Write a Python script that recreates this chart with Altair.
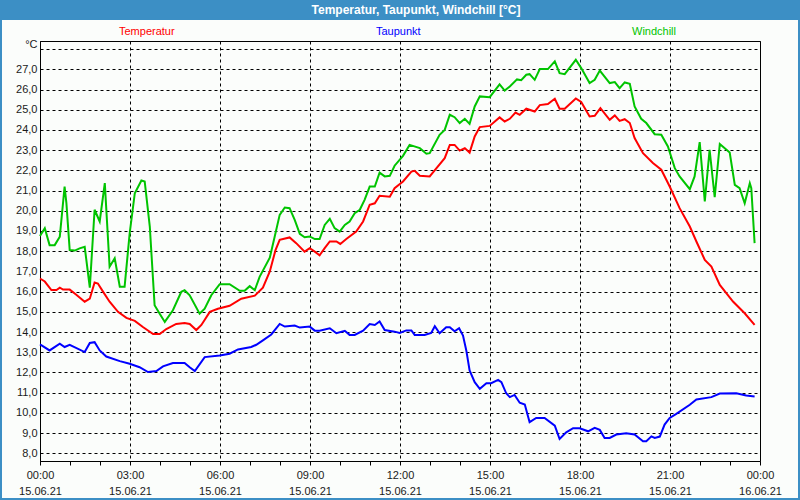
import altair as alt
import pandas as pd

# ---------------- data (hours since 15.06.21 00:00, °C) ----------------
temp_hours = [0.00, 0.16, 0.38, 0.55, 0.66, 0.77, 0.99, 1.21, 1.49, 1.66, 1.82, 1.93, 2.10, 2.32, 2.60,
              2.88, 3.16, 3.43, 3.77, 3.99, 4.21, 4.54, 4.82, 4.99, 5.21, 5.38, 5.66, 5.93, 6.32, 6.71,
              7.16, 7.43, 7.66, 7.85, 7.99, 8.32, 8.54, 8.82, 8.99, 9.16, 9.32, 9.49, 9.66, 9.88, 10.01,
              10.21, 10.54, 10.77, 10.99, 11.16, 11.32, 11.66, 11.82, 12.10, 12.38, 12.49, 12.66, 12.99,
              13.21, 13.49, 13.66, 13.82, 13.99, 14.16, 14.32, 14.49, 14.66, 14.99, 15.32, 15.49, 15.66,
              15.85, 15.99, 16.21, 16.49, 16.66, 16.93, 17.16, 17.32, 17.49, 17.86, 18.04, 18.32, 18.49,
              18.68, 18.99, 19.16, 19.32, 19.49, 19.66, 19.82, 20.10, 20.43, 20.71, 20.99, 21.32, 21.66,
              21.88, 22.16, 22.38, 22.66, 23.10, 23.49, 23.82]
temp_values = [16.65, 16.5, 16.08, 16.08, 16.2, 16.1, 16.1, 15.85, 15.5, 15.65, 16.45, 16.4, 16.0, 15.5, 15.0,
               14.7, 14.55, 14.25, 13.9, 13.9, 14.15, 14.4, 14.45, 14.4, 14.1, 14.35, 15.0, 15.15, 15.3, 15.65,
               15.8, 16.2, 17.0, 18.05, 18.56, 18.68, 18.4, 17.98, 18.15, 17.98, 17.8, 18.15, 18.48, 18.48, 18.36,
               18.6, 18.97, 19.47, 20.3, 20.37, 20.74, 20.7, 21.12, 21.45, 21.94, 21.98, 21.73, 21.7,
               22.1, 22.6, 23.26, 23.26, 22.98, 23.1, 22.88, 23.68, 24.14, 24.2, 24.62, 24.42, 24.55,
               24.86, 24.75, 25.05, 24.91, 25.23, 25.28, 25.54, 25.05, 25.05, 25.56, 25.38, 24.67, 24.7,
               25.08, 24.5, 24.72, 24.45, 24.53, 24.34, 23.6, 22.85, 22.36, 22.03, 21.2, 20.13, 19.22,
               18.48, 17.57, 17.24, 16.33, 15.51, 14.93, 14.35]

dew_hours = [0.00, 0.32, 0.66, 0.82, 0.99, 1.49, 1.66, 1.82, 1.99, 2.21, 2.66, 2.99, 3.32, 3.60, 3.88, 4.10,
             4.43, 4.82, 4.99, 5.16, 5.49, 5.99, 6.32, 6.60, 7.04, 7.21, 7.43, 7.71, 7.99, 8.16, 8.49, 8.66,
             8.99, 9.16, 9.32, 9.66, 9.88, 10.16, 10.32, 10.49, 10.77, 10.99, 11.16, 11.32, 11.49, 11.82,
             11.99, 12.21, 12.38, 12.49, 12.82, 13.04, 13.16, 13.32, 13.54, 13.66, 13.82, 13.97, 14.10,
             14.21, 14.32, 14.49, 14.66, 14.88, 15.04, 15.27, 15.38, 15.54, 15.66, 15.82, 15.99, 16.16,
             16.32, 16.54, 16.82, 17.16, 17.32, 17.54, 17.77, 17.99, 18.27, 18.49, 18.66, 18.82, 18.99,
             19.21, 19.54, 19.82, 20.10, 20.21, 20.38, 20.49, 20.66, 20.82, 20.99, 21.21, 21.66, 21.88,
             22.38, 22.66, 23.21, 23.54, 23.82]
dew_values = [13.39, 13.09, 13.42, 13.26, 13.37, 13.01, 13.46, 13.5, 13.09, 12.79, 12.56, 12.43, 12.26, 12.02,
              12.07, 12.3, 12.47, 12.47, 12.26, 12.07, 12.76, 12.84, 12.93, 13.14, 13.26, 13.37, 13.59, 13.88,
              14.4, 14.27, 14.32, 14.22, 14.27, 14.07, 14.07, 14.19, 13.94, 14.06, 13.86, 13.86, 14.07, 14.4,
              14.35, 14.52, 14.1, 14.02, 13.96, 14.08, 14.08, 13.86, 13.86, 13.96, 14.29, 13.94, 14.24, 14.24,
              14.04, 14.19, 13.83, 13.09, 12.1, 11.52, 11.19, 11.47, 11.47, 11.63, 11.52, 10.97, 10.78, 10.89,
              10.5, 10.41, 9.54, 9.75, 9.75, 9.37, 8.71, 9.04, 9.24, 9.24, 9.09, 9.26, 9.16, 8.76, 8.76,
              8.93, 8.99, 8.93, 8.6, 8.6, 8.84, 8.76, 8.83, 9.42, 9.75, 9.95, 10.4, 10.66,
              10.78, 10.96, 10.97, 10.86, 10.81]

wind_hours = [0.00, 0.16, 0.32, 0.49, 0.66, 0.82, 0.88, 0.99, 1.16, 1.32, 1.49, 1.66, 1.82, 1.99, 2.16, 2.32,
              2.49, 2.66, 2.82, 2.99, 3.16, 3.38, 3.49, 3.66, 3.82, 3.99, 4.16, 4.43, 4.71, 4.82, 4.99, 5.32,
              5.49, 5.71, 5.99, 6.32, 6.66, 6.82, 6.99, 7.16, 7.32, 7.66, 7.82, 7.99, 8.16, 8.32, 8.49, 8.66,
              8.82, 8.99, 9.16, 9.32, 9.49, 9.66, 9.82, 9.99, 10.16, 10.32, 10.49, 10.66, 10.82, 10.99, 11.16,
              11.32, 11.49, 11.66, 11.82, 12.10, 12.32, 12.66, 12.88, 12.99, 13.32, 13.49, 13.66, 13.82, 13.99,
              14.16, 14.32, 14.49, 14.66, 14.99, 15.32, 15.49, 15.66, 15.90, 16.04, 16.21, 16.32, 16.49, 16.66,
              16.93, 17.16, 17.32, 17.49, 17.86, 18.04, 18.32, 18.49, 18.66, 18.99, 19.16, 19.32, 19.49, 19.66,
              19.82, 20.04, 20.21, 20.49, 20.71, 20.93, 21.16, 21.32, 21.66, 21.82, 21.99, 22.16, 22.32, 22.49,
              22.66, 22.99, 23.16, 23.32, 23.49, 23.66, 23.71, 23.82]
wind_values = [18.75, 19.14, 18.3, 18.3, 18.72, 21.2, 20.38, 18.06, 18.03, 18.14, 18.22, 16.2, 20.05, 19.47, 21.37, 17.23,
               17.65, 16.24, 16.24, 18.9, 20.87, 21.5, 21.45, 19.22, 15.33, 14.91, 14.5, 15.08, 15.99, 16.07, 15.82, 14.91,
               15.16, 15.82, 16.37, 16.37, 16.04, 16.04, 16.27, 16.07, 16.73, 17.68, 18.7, 19.8, 20.16, 20.13, 19.55, 18.86,
               18.69, 18.73, 18.6, 18.6, 19.3, 19.6, 19.14, 18.97, 19.3, 19.47, 19.88, 20.05, 20.54, 21.2, 21.2,
               21.89, 21.7, 21.73, 22.23, 22.72, 23.26, 23.1, 22.82, 22.85, 23.76, 24.0, 24.75, 24.63, 24.34,
               24.55, 24.3, 25.16, 25.66, 25.62, 26.25, 25.95, 26.15, 26.5, 26.46, 26.73, 26.76, 26.48, 27.01,
               27.01, 27.39, 26.81, 26.76, 27.47, 27.06, 26.32, 26.48, 26.94, 26.32, 26.37, 26.07, 26.35, 26.28,
               25.16, 24.55, 24.34, 23.79, 23.76, 23.18, 22.11, 21.7, 21.07, 21.7, 23.4, 20.46, 23.02, 20.67,
               23.3, 22.88, 21.28, 21.12, 20.37, 21.36, 21.12, 18.4]

series_names = ["Temperatur", "Taupunkt", "Windchill"]
series_colors = ["#ff0000", "#0000ff", "#00c400"]

rows = []
for name, hs, vs in [("Temperatur", temp_hours, temp_values),
                     ("Taupunkt", dew_hours, dew_values),
                     ("Windchill", wind_hours, wind_values)]:
    for i, (h, v) in enumerate(zip(hs, vs)):
        rows.append({"series": name, "hour": h, "value": v, "order": i})
df = pd.DataFrame(rows)

# ---------------- style ----------------
FONT = "Liberation Sans"
BG = "#fbfdfb"
FRAME = "#3c8fc5"
TXT = "#1a1a1a"

x_label_expr = ("datum.value % 3 == 0 ? [(datum.value == 24 ? '00' : (datum.value < 10 ? '0' : '') + datum.value) + ':00', "
                "datum.value == 24 ? '16.06.21' : '15.06.21'] : ''")
y_label_expr = "datum.value == 28 ? '°C' : replace(format(datum.value, '.1f'), '.', ',')"

x_axis = alt.Axis(values=list(range(25)), labelExpr=x_label_expr, title=None,
                  tickSize=4, tickColor="black", domainColor="black",
                  grid=True, gridColor="black", gridDash=[3, 3],
                  gridOpacity={"condition": {"test": "datum.value % 3 === 0", "value": 1}, "value": 0},
                  labelFont=FONT, labelFontSize=11, labelColor=TXT, labelLineHeight=16,
                  labelPadding=4, labelFlush=False, labelOverlap=False)
y_axis = alt.Axis(values=list(range(8, 29)), labelExpr=y_label_expr, title=None,
                  ticks=False, domainColor="black",
                  grid=True, gridColor="black", gridDash=[3, 3],
                  labelFont=FONT, labelFontSize=11, labelColor=TXT, labelPadding=3,
                  labelBaseline={"condition": {"test": "datum.value == 28", "value": "bottom"}, "value": "middle"})

lines = alt.Chart(df).mark_line(strokeWidth=2).encode(
    x=alt.X("hour:Q", scale=alt.Scale(domain=[0, 24], nice=False, zero=False), axis=x_axis),
    y=alt.Y("value:Q", scale=alt.Scale(domain=[7.62, 28.40], nice=False, zero=False), axis=y_axis),
    color=alt.Color("series:N", scale=alt.Scale(domain=series_names, range=series_colors), legend=None),
    order="order:Q",
)

frame = alt.Chart().mark_rect(fillOpacity=0, stroke=FRAME, strokeWidth=4).encode(
    x=alt.value(-40), x2=alt.value(760), y=alt.value(-41), y2=alt.value(459))
title_bar = alt.Chart().mark_rect(color=FRAME).encode(
    x=alt.value(-40), x2=alt.value(760), y=alt.value(-41), y2=alt.value(-21))
title_text = alt.Chart().mark_text(text="Temperatur, Taupunkt, Windchill [°C]", font=FONT, fontSize=12,
                                   fontWeight="bold", color="white", align="center", baseline="middle").encode(
    x=alt.value(376), y=alt.value(-31))

legend_layers = []
for name, col, xpos in zip(series_names, series_colors, [79, 336, 592]):
    legend_layers.append(alt.Chart().mark_text(text=name, font=FONT, fontSize=11, color=col,
                                               align="left", baseline="middle").encode(
        x=alt.value(xpos), y=alt.value(-9)))

chart = alt.layer(lines, frame, title_bar, title_text, *legend_layers).properties(
    width=720, height=420,
    autosize=alt.AutoSizeParams(type="none"),
    padding={"left": 40, "top": 41, "right": 40, "bottom": 39},
    background=BG,
).configure_view(stroke="black", strokeWidth=1, fill=BG)

chart.save("out.html", embed_options={"renderer": "svg", "actions": False})
